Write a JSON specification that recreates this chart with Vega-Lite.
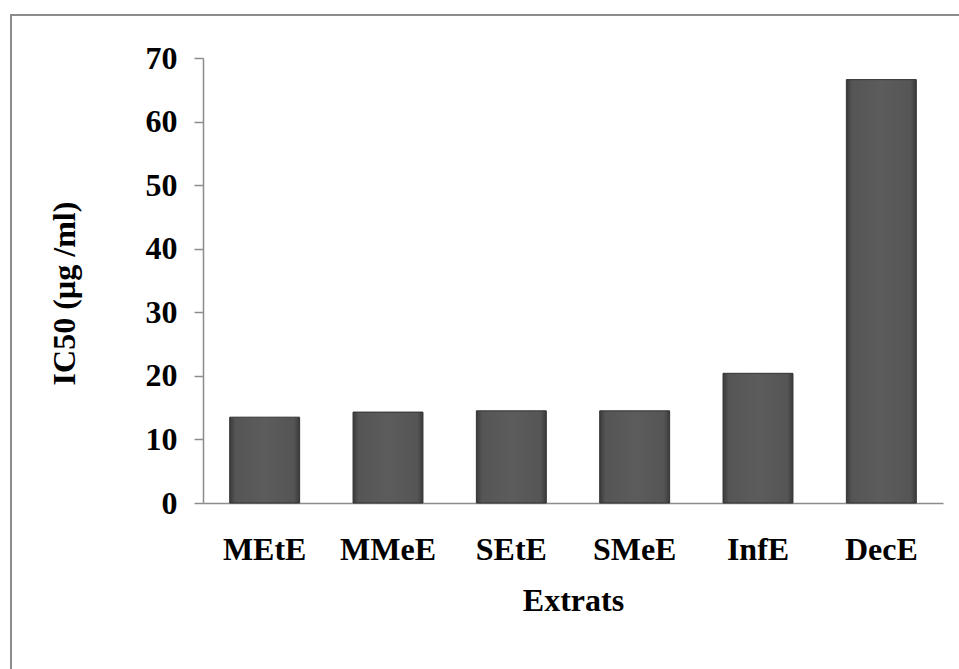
{
  "$schema": "https://vega.github.io/schema/vega-lite/v6.json",
  "autosize": {"type": "none"},
  "padding": {"left": 11, "top": 15, "right": 0, "bottom": 0},
  "width": 960,
  "height": 670,
  "background": "white",
  "config": {
    "view": {"stroke": "#8c8c8c", "strokeWidth": 2},
    "font": "Liberation Serif"
  },
  "data": {
    "values": [
      {"extract": "MEtE", "ic50": 13.5},
      {"extract": "MMeE", "ic50": 14.3},
      {"extract": "SEtE", "ic50": 14.5},
      {"extract": "SMeE", "ic50": 14.5},
      {"extract": "InfE", "ic50": 20.4},
      {"extract": "DecE", "ic50": 66.6}
    ]
  },
  "mark": {
    "type": "bar",
    "color": {
      "gradient": "linear",
      "x1": 0, "x2": 1, "y1": 0, "y2": 0,
      "stops": [
        {"offset": 0, "color": "#3a3a3a"},
        {"offset": 0.08, "color": "#555555"},
        {"offset": 0.5, "color": "#5c5c5c"},
        {"offset": 0.92, "color": "#555555"},
        {"offset": 1, "color": "#3a3a3a"}
      ]
    },
    "stroke": "#333333",
    "strokeWidth": 1
  },
  "encoding": {
    "x": {
      "field": "extract",
      "type": "nominal",
      "sort": null,
      "scale": {"range": [192, 932], "paddingInner": 0.433, "paddingOuter": 0.2165},
      "axis": {
        "title": "Extrats",
        "offset": -182,
        "labelAngle": 0,
        "ticks": false,
        "domainColor": "#8c8c8c",
        "domainWidth": 1.5,
        "labelFont": "Liberation Serif",
        "labelFontWeight": "bold",
        "labelFontSize": 32,
        "labelColor": "#000000",
        "labelPadding": 31,
        "titleFont": "Liberation Serif",
        "titleFontWeight": "bold",
        "titleFontSize": 32,
        "titleColor": "#000000",
        "titlePadding": 20
      }
    },
    "y": {
      "field": "ic50",
      "type": "quantitative",
      "scale": {"domain": [0, 70], "range": [488, 43], "nice": false},
      "axis": {
        "title": "IC50 (µg /ml)",
        "offset": -192,
        "values": [0, 10, 20, 30, 40, 50, 60, 70],
        "grid": false,
        "domainColor": "#8c8c8c",
        "domainWidth": 1.5,
        "tickColor": "#8c8c8c",
        "tickSize": 9,
        "tickWidth": 1.5,
        "labelFont": "Liberation Serif",
        "labelFontWeight": "bold",
        "labelFontSize": 32,
        "labelColor": "#000000",
        "labelPadding": 17,
        "titleFont": "Liberation Serif",
        "titleFontWeight": "bold",
        "titleFontSize": 32,
        "titleColor": "#000000",
        "titlePadding": 64,
        "titleY": 278
      }
    }
  }
}
